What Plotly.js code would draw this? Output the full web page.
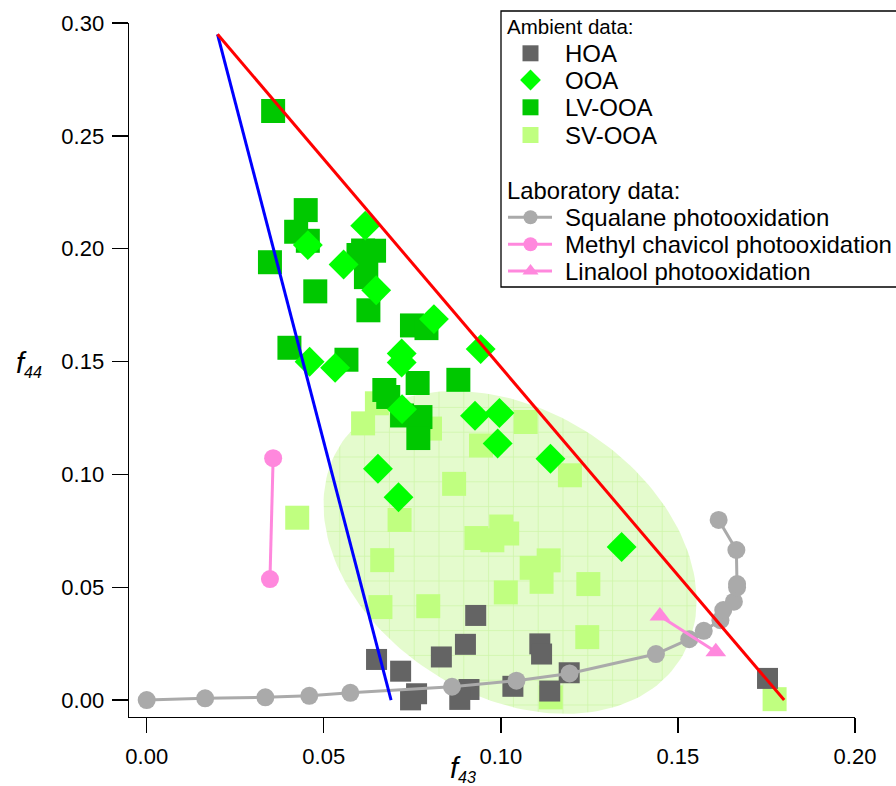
<!DOCTYPE html>
<html>
<head>
<meta charset="utf-8">
<script src="https://cdn.plot.ly/plotly-3.0.1.min.js"></script>
<style>html,body{margin:0;padding:0;background:#fff;}#chart{width:896px;height:786px;}</style>
</head>
<body>
<div id="chart"></div>
<script>
// ---------------- data ----------------
const hoaX = [0.0929, 0.0900, 0.0832, 0.0649, 0.0717, 0.0762, 0.0745, 0.0910, 0.0884, 0.1034, 0.1110, 0.1115, 0.1193, 0.1138, 0.1753];
const hoaY = [0.0375, 0.0247, 0.0191, 0.0180, 0.0128, 0.0028, 0.0001, 0.0047, 0.0003, 0.0061, 0.0249, 0.0204, 0.0121, 0.0040, 0.0096];

const ooaX = [0.0617, 0.0455, 0.0556, 0.0648, 0.0811, 0.0943, 0.0460, 0.0532, 0.0720, 0.0720, 0.0721, 0.0927, 0.0996, 0.0991, 0.1140, 0.0653, 0.0711, 0.1341];
const ooaY = [0.2102, 0.2016, 0.1930, 0.1816, 0.1688, 0.1555, 0.1499, 0.1472, 0.1536, 0.1496, 0.1289, 0.1260, 0.1272, 0.1137, 0.1069, 0.1025, 0.0899, 0.0678];

const lvX = [0.0357, 0.0449, 0.0422, 0.0455, 0.0348, 0.0611, 0.0642, 0.0598, 0.0620, 0.0619, 0.0476, 0.0626, 0.0749, 0.0790, 0.0403, 0.0564, 0.0880, 0.0765, 0.0671, 0.0682, 0.0721, 0.0773, 0.0767];
const lvY = [0.2610, 0.2171, 0.2075, 0.2035, 0.1940, 0.1992, 0.1991, 0.1972, 0.1914, 0.1874, 0.1811, 0.1727, 0.1660, 0.1648, 0.1561, 0.1508, 0.1419, 0.1405, 0.1374, 0.1343, 0.1261, 0.1254, 0.1161];

const svX = [0.0611, 0.0650, 0.0800, 0.0944, 0.1070, 0.0868, 0.1195, 0.0425, 0.0714, 0.0931, 0.0976, 0.1001, 0.1018, 0.0665, 0.1014, 0.0660, 0.0795, 0.1135, 0.1087, 0.1115, 0.1244, 0.1247, 0.1141, 0.1773];
const svY = [0.1226, 0.1315, 0.1203, 0.1128, 0.1232, 0.0958, 0.0996, 0.0808, 0.0798, 0.0718, 0.0708, 0.0769, 0.0738, 0.0620, 0.0477, 0.0412, 0.0416, 0.0619, 0.0586, 0.0524, 0.0279, 0.0514, 0.0012, 0.0004];

const squalaneX = [0.0000, 0.0165, 0.0335, 0.0459, 0.0575, 0.0862, 0.1044, 0.1194, 0.1438, 0.1532, 0.1573, 0.1620, 0.1628, 0.1658, 0.1667, 0.1667, 0.1665, 0.1615];
const squalaneY = [0.0000, 0.0008, 0.0012, 0.0019, 0.0032, 0.0059, 0.0086, 0.0118, 0.0204, 0.0270, 0.0307, 0.0354, 0.0399, 0.0436, 0.0499, 0.0514, 0.0665, 0.0798];

const chavicolX = [0.0357, 0.0348];
const chavicolY = [0.1072, 0.0536];

const linaloolX = [0.1449, 0.1607];
const linaloolY = [0.0373, 0.0214];

const redLineX = [0.020, 0.180];
const redLineY = [0.295, 0.000];
const blueLineX = [0.020, 0.069];
const blueLineY = [0.295, 0.000];

const xTickVals = [0.00, 0.05, 0.10, 0.15, 0.20];
const xTickText = ['0.00', '0.05', '0.10', '0.15', '0.20'];
const yTickVals = [0.00, 0.05, 0.10, 0.15, 0.20, 0.25, 0.30];
const yTickText = ['0.00', '0.05', '0.10', '0.15', '0.20', '0.25', '0.30'];

const legendHeaders = ['Ambient data:', 'Laboratory data:'];
const legendNames = ['HOA', 'OOA', 'LV-OOA', 'SV-OOA', 'Squalane photooxidation', 'Methyl chavicol photooxidation', 'Linalool photooxidation'];

// ---------------- styles & layout geometry ----------------
const COL = {hoa:'#646464', ooa:'#00ff00', lv:'#00c800', sv:'#c0ff80', squal:'#aaaaaa', pink:'#ff88dd', red:'#ff0000', blue:'#0000ff'};
const FONT = '"Liberation Sans", Arial, Helvetica, sans-serif';
const W = 896, H = 786;
const M = {l:129, r:41, t:23, b:69};
const xRange = [-0.005, 0.200];
const yRange = [-0.0075, 0.300];
const plotW = W - M.l - M.r, plotH = H - M.t - M.b;
const kx = plotW / (xRange[1] - xRange[0]);
const ky = plotH / (yRange[1] - yRange[0]);
const px2paperX = p => (p - M.l) / plotW;
const px2paperY = p => (H - M.b - p) / plotH;

// SV-OOA region: tilted ellipse (centre in data units, semi-axes in screen px)
const ell = {cx:0.1026, cy:0.0654, a:201, b:143, ang:32};
const ellX = [], ellY = [];
{
  const th = ell.ang * Math.PI / 180;
  for (let i = 0; i <= 180; i++) {
    const t = i / 180 * 2 * Math.PI;
    const dx = ell.a * Math.cos(t) * Math.cos(th) - ell.b * Math.sin(t) * Math.sin(th);
    const dy = ell.a * Math.cos(t) * Math.sin(th) + ell.b * Math.sin(t) * Math.cos(th);
    ellX.push(ell.cx + dx / kx);
    ellY.push(ell.cy - dy / ky);
  }
}

const traces = [];
traces.push({x:ellX, y:ellY, type:'scatter', mode:'lines', fill:'toself', line:{width:0, color:'rgba(0,0,0,0)'},
  fillcolor:'#e4fbcd', fillpattern:{shape:'+', size:24.8, solidity:0.06, bgcolor:'#e4fbcd', fgcolor:'#cdf5a6', fillmode:'replace'},
  hoverinfo:'skip', showlegend:false});
traces.push({x:svX, y:svY, type:'scatter', mode:'markers', marker:{symbol:'square', size:24, color:COL.sv}, showlegend:false, cliponaxis:false});
traces.push({x:lvX, y:lvY, type:'scatter', mode:'markers', marker:{symbol:'square', size:24, color:COL.lv}, showlegend:false, cliponaxis:false});
traces.push({x:ooaX, y:ooaY, type:'scatter', mode:'markers', marker:{symbol:'diamond', size:23, color:COL.ooa}, showlegend:false, cliponaxis:false});
traces.push({x:hoaX, y:hoaY, type:'scatter', mode:'markers', marker:{symbol:'square', size:21, color:COL.hoa}, showlegend:false, cliponaxis:false});
traces.push({x:squalaneX, y:squalaneY, type:'scatter', mode:'lines+markers', line:{color:COL.squal, width:3}, marker:{symbol:'circle', size:18, color:COL.squal}, showlegend:false, cliponaxis:false});
traces.push({x:chavicolX, y:chavicolY, type:'scatter', mode:'lines+markers', line:{color:COL.pink, width:3}, marker:{symbol:'circle', size:18, color:COL.pink}, showlegend:false, cliponaxis:false});
traces.push({x:linaloolX, y:linaloolY, type:'scatter', mode:'lines+markers', line:{color:COL.pink, width:3}, marker:{symbol:'triangle-up', size:18, color:COL.pink}, showlegend:false, cliponaxis:false});
traces.push({x:blueLineX, y:blueLineY, type:'scatter', mode:'lines', line:{color:COL.blue, width:3}, showlegend:false, cliponaxis:false});
traces.push({x:redLineX, y:redLineY, type:'scatter', mode:'lines', line:{color:COL.red, width:3}, showlegend:false, cliponaxis:false});

// ---------------- hand-made legend (symbols on a hidden pixel axis) ----------------
const LG = {box:[501, 11, 900, 287], symX:530.5, lineX:[508, 552], textX:563, headX:505,
  headY:[26.7, 190], rowY:[53.3, 80, 107.3, 135, 217.3, 244.3, 271]};
const legMarkers = [
  {symbol:'square', size:16, color:COL.hoa},
  {symbol:'diamond', size:16, color:COL.ooa},
  {symbol:'square', size:16, color:COL.lv},
  {symbol:'square', size:16, color:COL.sv},
  {symbol:'circle', size:14, color:COL.squal},
  {symbol:'circle', size:14, color:COL.pink},
  {symbol:'triangle-up', size:14, color:COL.pink}
];
legMarkers.forEach((mk, i) => {
  const isLine = i >= 4;
  if (isLine) {
    traces.push({x:[LG.lineX[0], LG.lineX[1]], y:[LG.rowY[i], LG.rowY[i]], xaxis:'x2', yaxis:'y2', type:'scatter', mode:'lines',
      line:{color:mk.color, width:3}, showlegend:false, hoverinfo:'skip', cliponaxis:false});
  }
  traces.push({x:[LG.symX], y:[LG.rowY[i]], xaxis:'x2', yaxis:'y2', type:'scatter', mode:'markers',
    marker:mk, showlegend:false, hoverinfo:'skip', cliponaxis:false});
});

const annotations = [];
annotations.push({text:legendHeaders[0], x:px2paperX(LG.headX), y:px2paperY(LG.headY[0]), xref:'paper', yref:'paper', xanchor:'left', yanchor:'middle', showarrow:false, font:{family:FONT, size:20.5, color:'#000'}});
annotations.push({text:legendHeaders[1], x:px2paperX(LG.headX), y:px2paperY(LG.headY[1]), xref:'paper', yref:'paper', xanchor:'left', yanchor:'middle', showarrow:false, font:{family:FONT, size:23.8, color:'#000'}});
legendNames.forEach((nm, i) => {
  annotations.push({text:nm, x:px2paperX(LG.textX), y:px2paperY(LG.rowY[i]), xref:'paper', yref:'paper', xanchor:'left', yanchor:'middle', showarrow:false, font:{family:FONT, size:24, color:'#000'}});
});
// axis titles
annotations.push({text:'<span style="font-size:29px"><i>f</i></span><sub><i>44</i></sub>', x:px2paperX(14), y:px2paperY(364), xref:'paper', yref:'paper', xanchor:'left', yanchor:'middle', showarrow:false, font:{family:FONT, size:23, color:'#000'}});
annotations.push({text:'<span style="font-size:29px"><i>f</i></span><sub><i>43</i></sub>', x:px2paperX(448), y:px2paperY(769), xref:'paper', yref:'paper', xanchor:'left', yanchor:'middle', showarrow:false, font:{family:FONT, size:23, color:'#000'}});

const shapes = [{type:'rect', xref:'paper', yref:'paper', x0:px2paperX(LG.box[0]), x1:px2paperX(LG.box[2]), y0:px2paperY(LG.box[3]), y1:px2paperY(LG.box[1]), line:{color:'#000', width:1.3}, fillcolor:'rgba(0,0,0,0)', layer:'above'}];

const axisCommon = {showgrid:false, zeroline:false, showline:true, linecolor:'#000', linewidth:1.4, ticks:'outside', tickcolor:'#000', tickwidth:1.4, tickfont:{family:FONT, size:22, color:'#000'}, tickmode:'array'};

const layout = {
  width:W, height:H, margin:M, paper_bgcolor:'#fff', plot_bgcolor:'#fff', showlegend:false,
  font:{family:FONT, color:'#000'},
  xaxis:Object.assign({}, axisCommon, {range:xRange, tickvals:xTickVals, ticktext:xTickText, ticklen:15, ticklabelstandoff:4}),
  yaxis:Object.assign({}, axisCommon, {range:yRange, tickvals:yTickVals, ticktext:yTickText, ticklen:16, ticklabelstandoff:3}),
  xaxis2:{overlaying:'x', anchor:'y2', range:[M.l, W - M.r], visible:false, fixedrange:true},
  yaxis2:{overlaying:'y', anchor:'x2', range:[H - M.b, M.t], visible:false, fixedrange:true},
  annotations:annotations, shapes:shapes, hovermode:false
};

Plotly.newPlot('chart', traces, layout, {staticPlot:true, displayModeBar:false});
</script>
</body>
</html>
